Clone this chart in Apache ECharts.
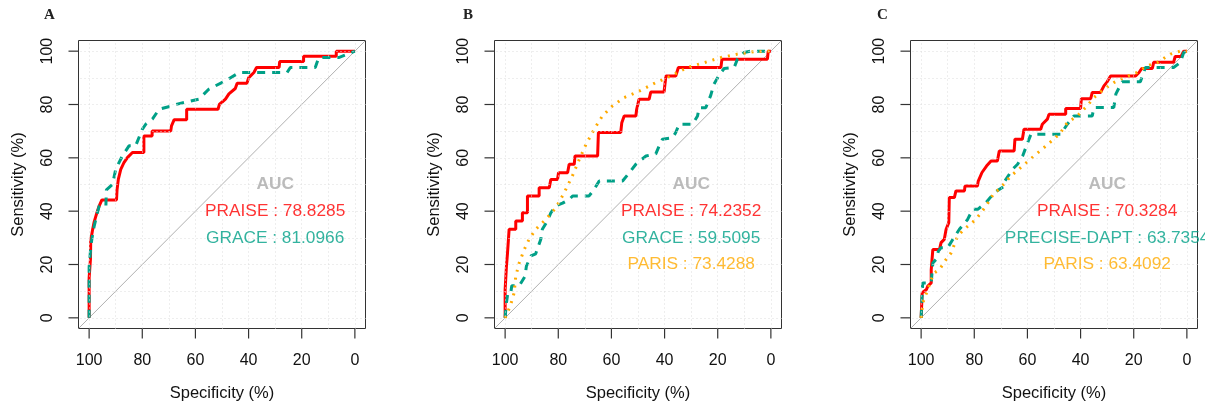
<!DOCTYPE html>
<html>
<head>
<meta charset="utf-8">
<script src="https://cdn.jsdelivr.net/npm/echarts@6/dist/echarts.min.js"></script>
<style>
  body { margin: 0; background: #fff; }
  #chart { width: 1205px; height: 407px; }
</style>
</head>
<body>
<div id="chart"></div>
<script>
// tick / grid values (percent)
const tickVals = [0, 20, 40, 60, 80, 100];
const gridVals = [0, 10, 20, 30, 40, 50, 60, 70, 80, 90, 100];
const diagonal = [[104, -4], [-4, 104]];
const boxCorners = [[104, -4], [-4, -4], [-4, 104], [104, 104], [104, -4]];

// ROC curves: [specificity, sensitivity]
const praiseA = [[100,0],[100,15],[99.5,22],[99.4,29],[98.7,33],[98.1,36],[96.9,40],[96.2,42],[95.2,44.2],[89.7,44.2],[89.5,48],[89,52],[88.1,55.7],[86.9,58.2],[85.6,60.1],[83.7,62],[79.4,62],[79.4,68.2],[76.3,68.2],[76.3,70.1],[69.3,70.1],[69,72],[68,74.3],[63.3,74.3],[63.3,78.2],[51.5,78.2],[51,80],[48.7,82],[47.4,84],[45,86],[44.3,88],[40.6,88],[40,90],[38,92],[37,93.9],[28.5,93.9],[28.3,96.1],[19.3,96.1],[19.3,98.1],[7,98.1],[7,100],[0,100]];
const graceA = [[100,0],[100,19],[99.5,25],[99,29.4],[98.1,34.4],[96.9,39.4],[96.2,42],[93.7,42],[93.5,48],[91.2,50],[90,55.7],[87.5,60.7],[85,64.5],[82.5,64.5],[80,70.7],[78.7,72.6],[76.2,74.5],[73.7,78.2],[68.7,79.5],[67.5,80],[58.7,82],[55,85.7],[48.7,88.9],[43.5,92],[25.5,92],[24.3,93.9],[14.9,93.9],[13.6,97.6],[6.1,97.6],[0,100]];

const praiseB = [[100,0],[100,10.6],[99.5,19.4],[99.1,24.4],[98.5,33.2],[96,33.2],[96,36.3],[93.5,36.3],[93.5,39.4],[91.6,39.4],[91.6,45.7],[87.2,45.7],[87.2,48.8],[83.4,48.8],[82.8,51.9],[80.3,51.9],[79.9,54.4],[76.5,54.4],[75.9,57.6],[74,57.6],[73.7,60.7],[65.2,60.7],[64.9,69.5],[56.5,69.5],[56.1,73.2],[55.2,75.7],[50.8,75.7],[50.5,78.2],[49.6,82],[45.8,82],[45.2,84.7],[40.2,84.7],[39.5,90.7],[35.8,90.7],[34.8,93.9],[18.8,93.9],[18.4,97],[1.3,97],[1,100],[0,100]];
const graceB = [[100,0],[99.6,5],[99,9.2],[97.9,9.2],[97.5,12],[94.7,12],[92.5,15.6],[92,19.4],[90.3,23.2],[88.5,24],[86.6,29.4],[86,33.2],[84,36.5],[82.8,39.4],[80.9,42],[78.4,43],[75.9,44.4],[74.6,45.7],[68.4,45.7],[66.5,48.2],[64.6,51.3],[55.8,51.3],[53.3,54.4],[50.8,57.6],[47,60.7],[43.3,61.5],[42,64.5],[40.8,67],[37,67.5],[35.8,69.5],[34.5,72.6],[29.5,72.6],[27.6,75.7],[27,78.8],[24.5,78.8],[22.6,83.5],[21.5,87.5],[19.5,91],[17.6,93.5],[13.8,93.9],[12.6,97],[10.1,99.5],[7.5,100],[0,100]];
const parisB = [[100,0],[99.1,1.9],[97.9,5],[96.6,9.4],[96,15.6],[94.7,20.6],[92.8,25.6],[91,29.4],[88.5,33.2],[84.7,36.9],[80.9,41.3],[77.8,46.9],[74.7,53.2],[72.1,59.4],[69.6,65],[66.5,70.7],[63.4,75.7],[59.6,79.5],[55.2,82.6],[49.6,85],[43.3,88.2],[37.6,90.7],[31.4,93.9],[25.1,95.7],[18.8,97.6],[12.6,98.9],[6.3,99.8],[0,100]];

const praiseC = [[100,0],[99.6,9.4],[98,10.6],[97.5,11.9],[96.2,13.1],[96.2,18.1],[95.6,25.6],[93.1,25.6],[92.5,28.2],[91.3,29.4],[90.6,33.2],[89.6,35.7],[89.4,45.1],[87.5,45.1],[86.9,47.6],[83.7,47.6],[83.5,49.4],[78.8,49.4],[78.5,51.3],[77.1,54.5],[75.4,56.9],[73.7,58.8],[71.3,58.8],[70.6,62.6],[65,62.6],[64.7,67],[61.9,67],[61.3,70.7],[55,70.7],[54.4,72.6],[52.5,74.5],[51.9,76.3],[45.6,76.3],[45.6,78.5],[40,78.5],[39.7,82.2],[36.2,82.2],[35.6,84.5],[32.5,84.5],[31.2,87],[30,88.5],[28.7,90.7],[19.3,90.7],[18,92],[17,93.5],[13,93.5],[12.5,95.8],[5,95.8],[4.4,98],[2.2,98],[1.2,100],[0,100]];
const precC = [[100,0],[99.6,9.4],[99.4,13.1],[96.2,13.1],[95.6,20.6],[94.4,21.9],[93.5,25],[92.5,26.3],[90,26.3],[88.1,29.4],[85.6,33.2],[82.5,36.9],[80.6,40.7],[78.7,40.7],[75.6,43.2],[72.5,46.9],[68.7,49.4],[68.5,51.3],[65.6,55.7],[63.7,57.6],[61.8,60.7],[58.7,68.8],[47.5,68.8],[45,72.6],[42.5,75.7],[35.6,75.7],[35,78.9],[27.5,78.9],[26.7,84],[24.4,88.5],[17.5,88.5],[15.6,93.9],[5,93.9],[2.5,95.7],[1.2,99.5],[0,100]];
const parisC = [[100,0],[99.4,5.6],[98.5,7.9],[97.5,10.6],[96.2,14.4],[95,16.9],[93.1,18.1],[90.6,21.9],[88.7,24.4],[86.3,30.6],[83.8,33.2],[79.4,36.9],[75.6,41.9],[72.5,46.9],[70.6,48.2],[66.2,53.2],[61.9,56.9],[57.5,60.7],[53.1,64.4],[49.4,67.6],[47.5,69.5],[45,73.2],[41.2,75.7],[37.5,79.5],[35,82.6],[31.2,85.7],[27.5,88.2],[23.7,90.1],[18.7,92],[15,94.5],[11.2,95.7],[6.2,98.9],[2.5,100],[0,100]];

// AUC legend text
const panelLetters = ['A', 'B', 'C'];
const aucNamesA = ['PRAISE', 'GRACE'];
const aucValsA = ['78.8285', '81.0966'];
const aucNamesB = ['PRAISE', 'GRACE', 'PARIS'];
const aucValsB = ['74.2352', '59.5095', '73.4288'];
const aucNamesC = ['PRAISE', 'PRECISE-DAPT', 'PARIS'];
const aucValsC = ['70.3284', '63.7354', '63.4092'];

const RED = '#ff0000', TEAL = '#00a087', ORANGE = '#ffaa00';
const FONT = 'Liberation Sans';
const TICK_LEN = 10;

const chart = echarts.init(document.getElementById('chart'));

// plot box per panel (R extends the 0..100 range by 4% on each side)
const gridLefts = [78.5, 494.5, 910.5];
const letterLefts = [44, 463, 877];
const boxTop = 40.5, boxW = 287, boxH = 288;
const unitX = boxW / 108, unitY = boxH / 108;
const padX = 4 * unitX, padY = 4 * unitY;
// extra room inside the data grid so the tick marks fall inside it
const tickX = 104 + (TICK_LEN + 2) / unitX, tickY = -4 - (TICK_LEN + 2) / unitY;

const panels = [
  { curves: [praiseA, graceA], names: aucNamesA, vals: aucValsA },
  { curves: [praiseB, graceB, parisB], names: aucNamesB, vals: aucValsB },
  { curves: [praiseC, precC, parisC], names: aucNamesC, vals: aucValsC }
];
const curveStyles = [
  { color: RED, type: 'solid' },
  { color: TEAL, type: [8, 7] },
  { color: ORANGE, type: [2, 6] }
];

const grids = [], xAxes = [], yAxes = [], series = [], titles = [];
const hidden = { show: false };

panels.forEach(function (p, i) {
  // data grid: box area plus room for the ticks on the left and bottom
  grids.push({
    left: gridLefts[i] - TICK_LEN - 2, top: boxTop, width: boxW + TICK_LEN + 2, height: boxH + TICK_LEN + 2
  });
  xAxes.push({ gridIndex: i, type: 'value', min: -4, max: tickX, inverse: true,
    axisLine: hidden, axisTick: hidden, axisLabel: hidden, splitLine: hidden });
  yAxes.push({ gridIndex: i, type: 'value', min: tickY, max: 104,
    axisLine: hidden, axisTick: hidden, axisLabel: hidden, splitLine: hidden });

  titles.push({
    text: panelLetters[i], left: letterLefts[i], top: 8, padding: 0,
    textStyle: { fontFamily: 'Liberation Serif', fontSize: 15, fontWeight: 'bold', color: '#222' }
  });

  // box
  series.push({
    type: 'line', xAxisIndex: i, yAxisIndex: i, data: boxCorners, symbol: 'none', silent: true,
    lineStyle: { color: '#333', width: 1 }, z: 1
  });
  // tick marks: thin rect symbols hanging off the box edge
  series.push({
    type: 'scatter', xAxisIndex: i, yAxisIndex: i, silent: true, clip: false, z: 5,
    symbol: 'rect', symbolSize: [1.2, TICK_LEN], symbolOffset: [0, TICK_LEN / 2],
    itemStyle: { color: '#333', opacity: 1 },
    data: tickVals.map(v => [v, -4])
  });
  series.push({
    type: 'scatter', xAxisIndex: i, yAxisIndex: i, silent: true, clip: false, z: 5,
    symbol: 'rect', symbolSize: [TICK_LEN, 1.2], symbolOffset: [-TICK_LEN / 2, 0],
    itemStyle: { color: '#333', opacity: 1 },
    data: tickVals.map(v => [104, v])
  });
  // diagonal + dotted grid
  series.push({
    type: 'line', xAxisIndex: i, yAxisIndex: i, data: diagonal, symbol: 'none', silent: true,
    lineStyle: { color: '#b0b0b0', width: 1 }, z: 1,
    markLine: {
      silent: true, symbol: 'none', label: { show: false },
      lineStyle: { color: '#dcdcdc', type: [1, 3], width: 1 },
      data: gridVals.map(v => [{ coord: [v, -4] }, { coord: [v, 104] }])
        .concat(gridVals.map(v => [{ coord: [-4, v] }, { coord: [104, v] }]))
    }
  });

  p.curves.forEach(function (c, k) {
    series.push({
      type: 'line', xAxisIndex: i, yAxisIndex: i, data: c, symbol: 'none', silent: true,
      lineStyle: { color: curveStyles[k].color, width: 3, type: curveStyles[k].type },
      z: 2 + k
    });
  });

  // AUC text
  const colors = [RED, TEAL, ORANGE];
  const textData = [{ value: [30, 50], name: 'AUC', label: { color: '#aaaaaa', fontWeight: 'bold' } }];
  p.names.forEach(function (n, k) {
    textData.push({ value: [30, 40 - 10 * k], name: n + ' : ' + p.vals[k], label: { color: colors[k] } });
  });
  series.push({
    type: 'scatter', xAxisIndex: i, yAxisIndex: i, symbolSize: 0, silent: true, z: 10,
    label: {
      show: true, position: 'inside', formatter: '{b}',
      fontFamily: FONT, fontSize: 17.3, align: 'center', verticalAlign: 'middle'
    },
    data: textData
  });
});

// inner grids spanning exactly 0..100, used only for labels and titles of the axes
panels.forEach(function (p, i) {
  const g = panels.length + i;
  grids.push({
    left: gridLefts[i] + padX, top: boxTop + padY, width: boxW - 2 * padX, height: boxH - 2 * padY
  });
  xAxes.push({
    gridIndex: g, type: 'value', min: 0, max: 100, interval: 20, inverse: true,
    position: 'bottom', offset: padY,
    name: 'Specificity (%)', nameLocation: 'middle', nameGap: 56,
    nameTextStyle: { fontFamily: FONT, fontSize: 16.5, color: '#111' },
    axisLine: { show: false, onZero: false },
    axisTick: hidden,
    axisLabel: { margin: 24, fontFamily: FONT, fontSize: 16, color: '#111' },
    splitLine: hidden
  });
  yAxes.push({
    gridIndex: g, type: 'value', min: 0, max: 100, interval: 20,
    position: 'left', offset: padX,
    name: 'Sensitivity (%)', nameLocation: 'middle', nameGap: 52, nameRotate: 90,
    nameTextStyle: { fontFamily: FONT, fontSize: 16.5, color: '#111' },
    axisLine: { show: false, onZero: false },
    axisTick: hidden,
    axisLabel: { rotate: 90, margin: 23, fontFamily: FONT, fontSize: 16, color: '#111' },
    splitLine: hidden
  });
});

chart.setOption({
  animation: false,
  backgroundColor: '#fff',
  title: titles,
  grid: grids,
  xAxis: xAxes,
  yAxis: yAxes,
  series: series
});
</script>
</body>
</html>
